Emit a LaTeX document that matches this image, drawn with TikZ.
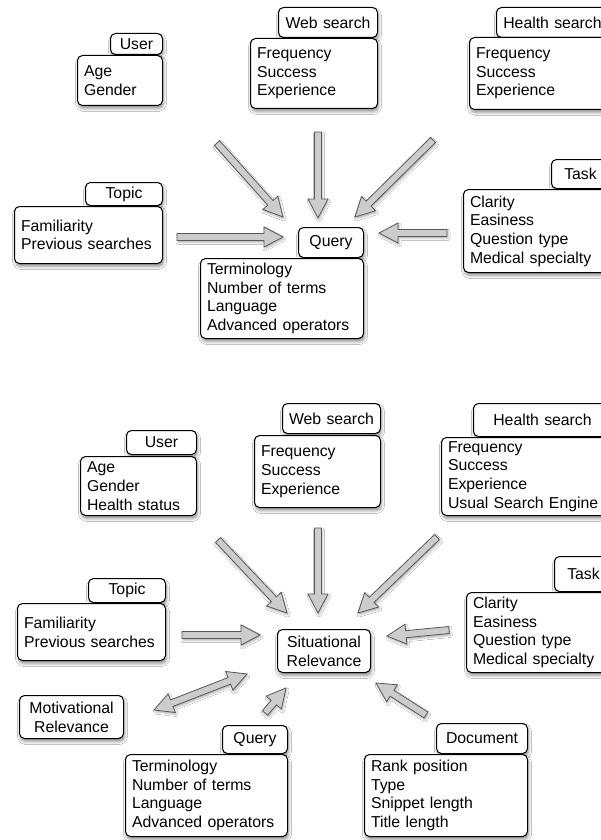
\documentclass[tikz,border=0pt]{standalone}
\usepackage{fontspec}
\setmainfont{Liberation Sans}
\usetikzlibrary{calc,shadows.blur}

\tikzset{
  card/.style={draw=black, line width=1pt, fill=white, rounded corners=5pt,
    anchor=north west, inner xsep=6.5pt, inner ysep=0pt, align=left,
    font=\fontsize{15.8}{18.7}\selectfont,
    blur shadow={shadow xshift=1pt, shadow yshift=-3pt, shadow blur radius=3pt,
      shadow blur steps=6, shadow opacity=45}},
  tab/.style={card, align=center},
  arrowbody/.style={draw=black!65, line width=0.8pt, fill=black!20, line join=miter,
    blur shadow={shadow xshift=1pt, shadow yshift=-2pt, shadow blur radius=2pt,
      shadow blur steps=4, shadow opacity=30}},
}

% single-headed block arrow from #1 (tail) to #2 (tip)
\newcommand\blockarrow[2]{%
  \coordinate (ba-h) at ($(#2)!19pt!(#1)$);
  \filldraw[arrowbody] ($(#1)!3.5pt!90:(#2)$) -- ($(ba-h)!3.5pt!-90:(#1)$)
    -- ($(ba-h)!10pt!-90:(#1)$) -- (#2) -- ($(ba-h)!10pt!90:(#1)$)
    -- ($(ba-h)!3.5pt!90:(#1)$) -- ($(#1)!3.5pt!-90:(#2)$) -- cycle;}

% double-headed block arrow between #1 and #2
\newcommand\dblockarrow[2]{%
  \coordinate (ba-h) at ($(#2)!19pt!(#1)$);
  \coordinate (ba-t) at ($(#1)!19pt!(#2)$);
  \filldraw[arrowbody] (#1) -- ($(ba-t)!10pt!90:(#2)$) -- ($(ba-t)!3.5pt!90:(#2)$)
    -- ($(ba-h)!3.5pt!-90:(#1)$) -- ($(ba-h)!10pt!-90:(#1)$) -- (#2)
    -- ($(ba-h)!10pt!90:(#1)$) -- ($(ba-h)!3.5pt!90:(#1)$)
    -- ($(ba-t)!3.5pt!-90:(#2)$) -- ($(ba-t)!10pt!-90:(#2)$) -- cycle;}

\begin{document}
\begin{tikzpicture}[x=1pt, y=-1pt]
\path[use as bounding box, fill=white] (0,0) rectangle (601,840);

% ---------------- upper model: factors of the query ----------------
\node[tab, minimum width=52pt, text width=39pt, minimum height=21pt] (userAt) at (110,33) {User};
\node[card, minimum width=85pt, text width=72pt, minimum height=50pt] (userA) at (77,55) {Age\\Gender};

\node[tab, minimum width=99pt, text width=86pt, minimum height=30pt] (webAt) at (278,7) {Web search};
\node[card, minimum width=127pt, text width=114pt, minimum height=70pt] (webA) at (250,38) {Frequency\\Success\\Experience};

\node[tab, minimum width=112pt, text width=99pt, minimum height=30pt] (healthAt) at (496,7) {Health search};
\node[card, minimum width=140pt, text width=127pt, minimum height=72pt] (healthA) at (469,37) {Frequency\\Success\\Experience};

\node[tab, minimum width=58pt, text width=45pt, minimum height=29pt] (taskAt) at (551,159) {Task};
\node[card, minimum width=145pt, text width=132pt, minimum height=83pt] (taskA) at (463,189) {Clarity\\Easiness\\Question type\\Medical specialty};

\node[tab, minimum width=77pt, text width=64pt, minimum height=23pt] (topicAt) at (85,182) {Topic};
\node[card, minimum width=148pt, text width=135pt, minimum height=57pt] (topicA) at (14,206) {Familiarity\\Previous searches};

\node[tab, minimum width=65pt, text width=52pt, minimum height=30pt] (queryAt) at (298,227) {Query};
\node[card, minimum width=163pt, text width=150pt, minimum height=80pt] (queryA) at (200,258) {Terminology\\Number of terms\\Language\\Advanced operators};

\coordinate (uA1) at (217,143); \coordinate (uA2) at (283,217);
\coordinate (wA1) at (318,132); \coordinate (wA2) at (318,218);
\coordinate (hA1) at (433,140); \coordinate (hA2) at (355,217);
\coordinate (tA1) at (177,237); \coordinate (tA2) at (283,237);
\coordinate (kA1) at (447,233); \coordinate (kA2) at (379,233);
\blockarrow{uA1}{uA2}
\blockarrow{wA1}{wA2}
\blockarrow{hA1}{hA2}
\blockarrow{tA1}{tA2}
\blockarrow{kA1}{kA2}

% ---------------- lower model: situational relevance ----------------
\node[tab, minimum width=70pt, text width=57pt, minimum height=24pt] (userBt) at (126,430) {User};
\node[card, minimum width=116pt, text width=103pt, minimum height=59pt] (userB) at (80,456) {Age\\Gender\\Health status};

\node[tab, minimum width=98pt, text width=85pt, minimum height=30pt] (webBt) at (282,403) {Web search};
\node[card, minimum width=126pt, text width=113pt, minimum height=72pt] (webB) at (254,435) {Frequency\\Success\\Experience};

\node[tab, minimum width=138pt, text width=125pt, minimum height=33pt] (healthBt) at (473,403) {Health search};
\node[card, minimum width=165pt, text width=152pt, minimum height=78pt] (healthB) at (441,437) {Frequency\\Success\\Experience\\Usual Search Engine};

\node[tab, minimum width=58pt, text width=45pt, minimum height=35pt] (taskBt) at (554,556) {Task};
\node[card, minimum width=145pt, text width=132pt, minimum height=80pt] (taskB) at (466,592) {Clarity\\Easiness\\Question type\\Medical specialty};

\node[tab, minimum width=77pt, text width=64pt, minimum height=24pt] (topicBt) at (88,578) {Topic};
\node[card, minimum width=148pt, text width=135pt, minimum height=57pt] (topicB) at (17,603) {Familiarity\\Previous searches};

\node[tab, minimum width=93pt, text width=80pt, minimum height=43pt] (situ) at (277,629) {Situational\\Relevance};
\node[tab, minimum width=104pt, text width=91pt, minimum height=43pt] (motiv) at (19,695) {Motivational\\Relevance};

\node[tab, minimum width=65pt, text width=52pt, minimum height=28pt] (queryBt) at (222,725) {Query};
\node[card, minimum width=162pt, text width=149pt, minimum height=82pt] (queryB) at (125,754) {Terminology\\Number of terms\\Language\\Advanced operators};

\node[tab, minimum width=91pt, text width=78pt, minimum height=30pt] (docBt) at (436,723) {Document};
\node[card, minimum width=163pt, text width=150pt, minimum height=82pt] (docB) at (364,754) {Rank position\\Type\\Snippet length\\Title length};

\coordinate (uB1) at (218,540); \coordinate (uB2) at (287,613);
\coordinate (wB1) at (318,528); \coordinate (wB2) at (318,613);
\coordinate (hB1) at (437,537); \coordinate (hB2) at (358,613);
\coordinate (tB1) at (182,635); \coordinate (tB2) at (260,635);
\coordinate (kB1) at (449,630); \coordinate (kB2) at (387,636);
\coordinate (mB1) at (154,710); \coordinate (mB2) at (247,674);
\coordinate (qB1) at (265,713); \coordinate (qB2) at (286,688);
\coordinate (dB1) at (426,715); \coordinate (dB2) at (376,683);
\blockarrow{uB1}{uB2}
\blockarrow{wB1}{wB2}
\blockarrow{hB1}{hB2}
\blockarrow{tB1}{tB2}
\blockarrow{kB1}{kB2}
\dblockarrow{mB1}{mB2}
\blockarrow{qB1}{qB2}
\blockarrow{dB1}{dB2}
\end{tikzpicture}
\end{document}
